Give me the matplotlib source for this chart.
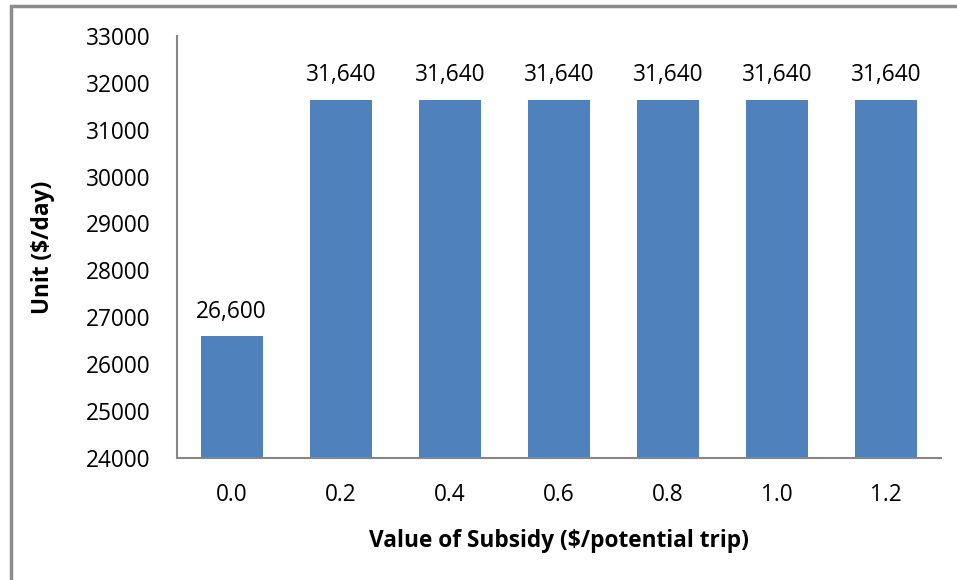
import matplotlib
matplotlib.use("Agg")
import matplotlib.pyplot as plt
from matplotlib.patches import Rectangle

# chart data
subsidy = ["0.0", "0.2", "0.4", "0.6", "0.8", "1.0", "1.2"]
unit_value = [26600, 31640, 31640, 31640, 31640, 31640, 31640]
yticks = [24000, 25000, 26000, 27000, 28000, 29000, 30000, 31000, 32000, 33000]

plt.rcParams['font.family'] = ['Open Sans', 'DejaVu Sans']

bar_color = '#4F81BD'
axis_color = '#868686'
fs = 16.3

fig = plt.figure(figsize=(9.57, 5.8), dpi=100)
ax = fig.add_axes([0.185, 0.2103, 0.798, 0.728])

x = list(range(len(subsidy)))
bars = ax.bar(x, unit_value, width=0.57, color=bar_color, zorder=2)

for xi, v in zip(x, unit_value):
    ax.annotate(f"{v:,}", (xi, v), xytext=(0, 9), textcoords='offset points',
                ha='center', va='bottom', fontsize=fs, color='black')

ax.set_ylim(24000, 33000)
ax.set_xlim(-0.5, len(subsidy) - 0.5)
ax.set_yticks(yticks)
ax.set_yticklabels([str(t) for t in yticks], fontsize=fs)
ax.set_xticks(x)
ax.set_xticklabels(subsidy, fontsize=fs)
ax.tick_params(axis='both', length=0)
ax.tick_params(axis='y', pad=19)
ax.tick_params(axis='x', pad=18)

for s in ['top', 'right']:
    ax.spines[s].set_visible(False)
for s in ['left', 'bottom']:
    ax.spines[s].set_color(axis_color)
    ax.spines[s].set_linewidth(1.5)

ax.set_ylabel("Unit ($/day)", fontsize=fs, fontweight='bold', labelpad=22)
ax.set_xlabel("Value of Subsidy ($/potential trip)", fontsize=fs, fontweight='bold', labelpad=16)

# outer chart border (cropped at right and bottom)
fig.patches.append(Rectangle((11 / 957, -0.05), 1.1, 0.05 + (580 - 6) / 580,
                             transform=fig.transFigure, fill=False,
                             edgecolor='#8C8C8C', linewidth=2.5))

fig.savefig("out.png", dpi=100)
